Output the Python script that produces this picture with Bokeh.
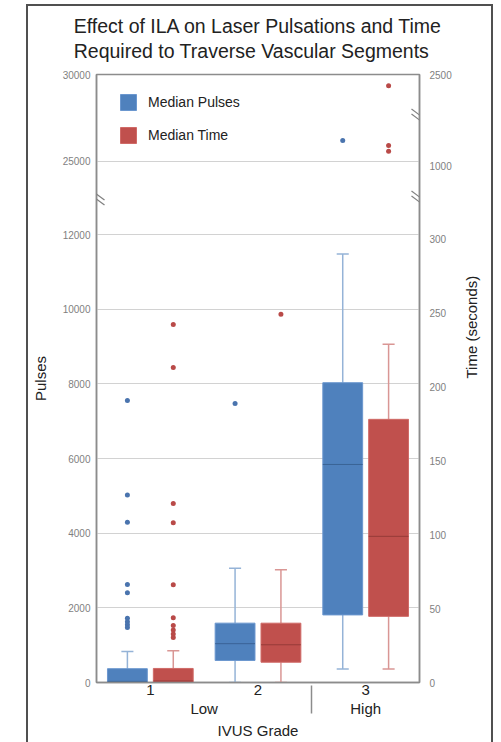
import math
from bokeh.plotting import figure
from bokeh.models import (FactorRange, Range1d, LinearAxis, FixedTicker, Title, Legend,
                          LegendItem, ColumnDataSource, Arrow, CDSView, BooleanFilter)
from bokeh.transform import dodge
from bokeh.layouts import column
from bokeh.embed import file_html
from bokeh.resources import INLINE

# ---------------- data ----------------
grades = ["1", "2", "3"]
grade_groups = ["Low", "Low", "High"]

pulses_lower = [0, 0, 360]
pulses_q1 = [0, 590, 1810]
pulses_median = [30, 1040, 5840]
pulses_q3 = [370, 1590, 8030]
pulses_upper = [830, 3060, 11480]

time_lower = [0, 0, 9.2]
time_q1 = [0, 13.7, 44.7]
time_median = [1, 25.5, 98.8]
time_q3 = [9.5, 40.1, 177.9]
time_upper = [21.5, 76.2, 228.7]

pulses_outlier_grade = ["1", "1", "1", "1", "1", "1", "1", "1", "1", "2", "3"]
pulses_outliers = [7555, 5020, 4295, 2625, 2405, 1720, 1630, 1550, 1470, 7475, 26200]

time_outlier_grade = ["1", "1", "1", "1", "1", "1", "1", "1", "1", "1", "2", "3", "3", "3"]
time_outliers = [242, 213, 121, 108, 66, 43.7, 38.6, 35.5, 32.8, 30.4, 249, 2316, 1342, 1250]

pulses_ticks_low = [0, 2000, 4000, 6000, 8000, 10000, 12000]
pulses_ticks_high = [25000, 30000]
time_ticks_low = [0, 50, 100, 150, 200, 250, 300]
time_ticks_high = [1000, 2500]

# ---------------- broken-axis scales ----------------
LOW_TOP = 16286            # pulses at the top of the frame on the lower scale
T_LOW_TOP = 411            # seconds at the top of the frame on the lower scale
HI_RANGE = (-4943, 30000)  # pulses, upper scale
T_HI_RANGE = (-7413, 2500) # seconds, upper scale


def to_low(v, hi, top):
    return int(round((v - hi[0]) / (hi[1] - hi[0]) * top))


# ---------------- styling ----------------
FONT = "Liberation Sans"
BLUE, RED = "#4F81BD", "#C0504D"
BLUE_EDGE, RED_EDGE = "#6B97CF", "#D06A67"
BLUE_W, RED_W = "#95B3D7", "#D99694"
BLUE_MED, RED_MED = "#3A6396", "#963B38"
BLUE_DOT, RED_DOT = "#4A74AE", "#B94A48"
AXIS_C = "#8c8c8c"
GRID_C = "#d2d2d2"
TICK_C = "#7f7f7f"
TEXT_C = "#222222"
BOX_W = 0.37
OFF = 0.213
CAP = 0.056
FRAME_W = 323

group_of = dict(zip(grades, grade_groups))
factors = list(zip(grade_groups, grades))
x_range = FactorRange(factors=factors, group_padding=0, subgroup_padding=0,
                      factor_padding=0, range_padding=0)

blue_src = ColumnDataSource(dict(x=factors, lo=pulses_lower, q1=pulses_q1, q2=pulses_median,
                                 q3=pulses_q3, hi=pulses_upper))
red_src = ColumnDataSource(dict(x=factors, lo=time_lower, q1=time_q1, q2=time_median,
                                q3=time_q3, hi=time_upper))
blue_out = ColumnDataSource(dict(x=[(group_of[g], g) for g in pulses_outlier_grade],
                                 y=pulses_outliers))
red_out = ColumnDataSource(dict(x=[(group_of[g], g) for g in time_outlier_grade],
                                y=time_outliers))

p = figure(x_range=x_range, y_range=Range1d(0, LOW_TOP), title=None,
           frame_width=FRAME_W, frame_height=608,
           min_border_left=68, min_border_right=72, min_border_top=74, min_border_bottom=60,
           output_backend="svg", toolbar_location=None)
p.margin = (-6, 0, 0, 0)
p.border_fill_alpha = 0
p.extra_y_ranges = {"time": Range1d(0, T_LOW_TOP),
                    "pulses_hi": Range1d(*HI_RANGE),
                    "time_hi": Range1d(*T_HI_RANGE)}
p.outline_line_color = AXIS_C
p.outline_line_width = 1.5
p.xgrid.visible = False


def draw_series(box_src, out_src, off, fill, edge, whisk, med, dot, yname, yname_hi, limit):
    kw = {"y_range_name": yname} if yname else {}
    xc = dodge("x", off, range=x_range)
    xl = dodge("x", off - CAP, range=x_range)
    xr = dodge("x", off + CAP, range=x_range)
    bl = dodge("x", off - BOX_W / 2, range=x_range)
    br = dodge("x", off + BOX_W / 2, range=x_range)
    for y0, y1 in (("q3", "hi"), ("q1", "lo")):
        p.segment(x0=xc, x1=xc, y0=y0, y1=y1, source=box_src, line_color=whisk, line_width=1.5, **kw)
    for y in ("hi", "lo"):
        p.segment(x0=xl, x1=xr, y0=y, y1=y, source=box_src, line_color=whisk, line_width=1.5, **kw)
    box = p.vbar(x=xc, width=BOX_W, bottom="q1", top="q3", source=box_src,
                 fill_color=fill, line_color=edge, line_width=1, **kw)
    p.segment(x0=bl, x1=br, y0="q2", y1="q2", source=box_src, line_color=med, line_width=1, **kw)
    ys = out_src.data["y"]
    low_view = CDSView(filter=BooleanFilter(booleans=[v <= limit for v in ys]))
    hi_view = CDSView(filter=BooleanFilter(booleans=[v > limit for v in ys]))
    p.scatter(x=xc, y="y", source=out_src, view=low_view, size=5, fill_color=dot,
              line_color=None, **kw)
    p.scatter(x=xc, y="y", source=out_src, view=hi_view, size=5, fill_color=dot,
              line_color=None, y_range_name=yname_hi)
    return box


b = draw_series(blue_src, blue_out, -OFF, BLUE, BLUE_EDGE, BLUE_W, BLUE_MED, BLUE_DOT,
                None, "pulses_hi", pulses_ticks_low[-1])
r = draw_series(red_src, red_out, OFF, RED, RED_EDGE, RED_W, RED_MED, RED_DOT,
                "time", "time_hi", time_ticks_low[-1])


def style_y_axis(ax, standoff):
    ax.axis_line_color = AXIS_C
    ax.axis_line_width = 1.5
    ax.major_tick_line_color = None
    ax.minor_tick_line_color = None
    ax.major_tick_out = 0
    ax.major_tick_in = 0
    ax.minor_tick_out = 0
    ax.major_label_text_color = TICK_C
    ax.major_label_text_font_size = "10px"
    ax.major_label_text_font = FONT
    ax.major_label_standoff = standoff
    ax.axis_label_text_font_size = "15px"
    ax.axis_label_text_font = FONT
    ax.axis_label_text_font_style = "normal"
    ax.axis_label_text_color = TEXT_C


# left axis: lower scale ticks + upper-segment ticks mapped onto the frame
hi_pos = [to_low(v, HI_RANGE, LOW_TOP) for v in pulses_ticks_high]
left_ticker = FixedTicker(ticks=pulses_ticks_low + hi_pos)
la = p.yaxis[0]
la.ticker = left_ticker
la.major_label_overrides = {pos: str(v) for pos, v in zip(hi_pos, pulses_ticks_high)}
style_y_axis(la, 6)
la.axis_label = "Pulses"
la.axis_label_standoff = 11
p.ygrid.ticker = left_ticker
p.ygrid.grid_line_color = GRID_C

t_hi_pos = [to_low(v, T_HI_RANGE, T_LOW_TOP) for v in time_ticks_high]
ra = LinearAxis(y_range_name="time", ticker=FixedTicker(ticks=time_ticks_low + t_hi_pos))
ra.major_label_overrides = {pos: str(v) for pos, v in zip(t_hi_pos, time_ticks_high)}
style_y_axis(ra, 10)
ra.axis_label = "Time (seconds)"
ra.axis_label_standoff = 17
ra.axis_label_orientation = math.pi / 2
p.add_layout(ra, "right")

xa = p.xaxis[0]
xa.axis_line_color = AXIS_C
xa.axis_line_width = 1.5
xa.major_tick_line_color = None
xa.major_tick_out = 0
xa.major_tick_in = 0
xa.major_label_text_font_size = "15px"
xa.major_label_text_font = FONT
xa.major_label_text_color = TEXT_C
xa.major_label_standoff = 2
xa.group_text_font_size = "15px"
xa.group_text_font = FONT
xa.group_text_font_style = "normal"
xa.group_text_color = TEXT_C
xa.separator_line_color = AXIS_C
xa.separator_line_width = 1.5
xa.axis_label = "IVUS Grade"
xa.axis_label_text_font_size = "15px"
xa.axis_label_text_font = FONT
xa.axis_label_text_font_style = "normal"
xa.axis_label_text_color = TEXT_C
xa.axis_label_standoff = 2

legend = Legend(items=[LegendItem(label="Median Pulses", renderers=[b]),
                       LegendItem(label="Median Time", renderers=[r])],
                location=(22, 537), padding=0, spacing=13, glyph_width=20, glyph_height=20,
                label_standoff=10, label_text_font_size="14px", label_text_font=FONT,
                label_text_color=TEXT_C, border_line_color=None, background_fill_alpha=0)
p.add_layout(legend)

p.add_layout(Title(text="Effect of ILA on Laser Pulsations and Time\nRequired to Traverse Vascular Segments",
                   align="center", vertical_align="top", text_font_size="19.5px",
                   text_font_style="normal", text_font=FONT, text_color=TEXT_C,
                   text_line_height=1.147, standoff=22), "above")

# break marks on the axis lines
for cx, cy in [(0, 486), (FRAME_W, 565), (FRAME_W, 483)]:
    for dy in (2.5, -2.5):
        p.add_layout(Arrow(x_start=cx - 8, y_start=cy + dy + 6, x_end=cx + 8, y_end=cy + dy - 6,
                           start_units="screen", end_units="screen", end=None,
                           line_color="#808080", line_width=1.2))

# short divider between grade 1 and grade 2 below the axis
div_x = FRAME_W / len(grades)
p.add_layout(Arrow(x_start=div_x, y_start=0, x_end=div_x, y_end=-11,
                   start_units="screen", end_units="screen", end=None,
                   line_color=AXIS_C, line_width=1.5))

layout = column(p, styles={"border": "2px solid #505050"}, margin=(4, 0, 0, 26))

open("out.html", "w").write(file_html(layout, INLINE))
